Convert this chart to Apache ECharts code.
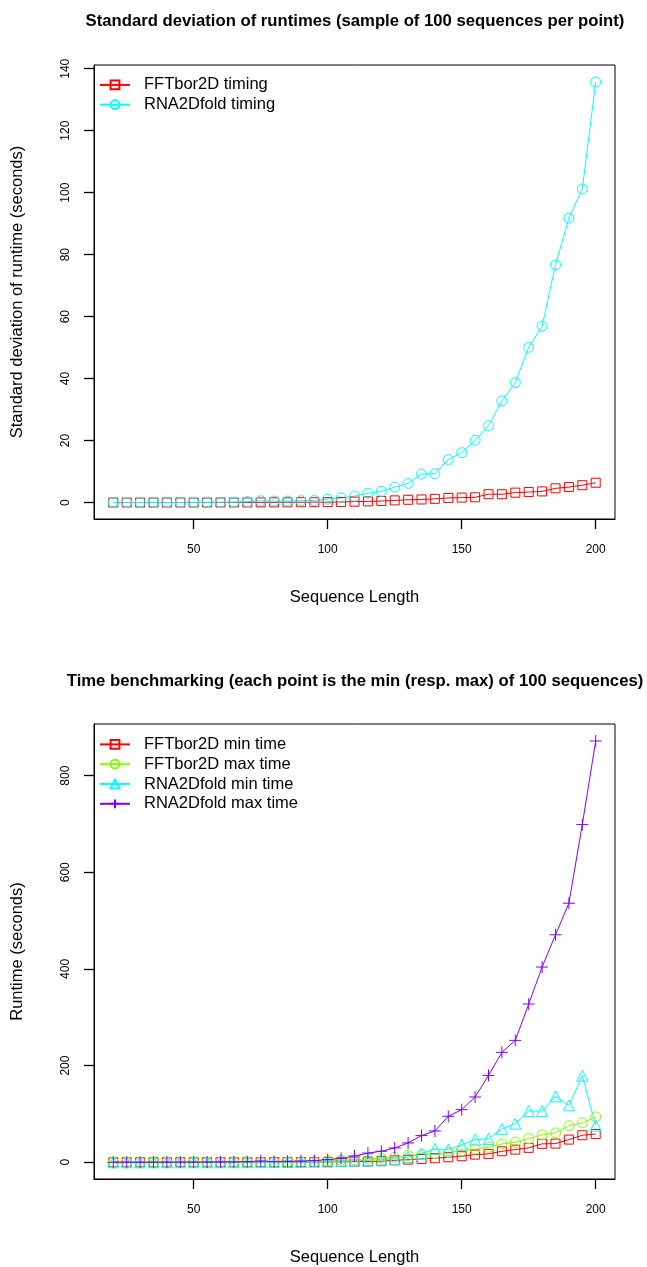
<!DOCTYPE html>
<html>
<head>
<meta charset="utf-8">
<script src="https://cdn.jsdelivr.net/npm/echarts@6/dist/echarts.min.js"></script>
<style>
  html, body { margin: 0; padding: 0; background: #fff; }
  #chart { width: 647px; height: 1267px; }
</style>
</head>
<body>
<div id="chart"></div>
<script>
// Sequence lengths (x values, shared by both panels)
var seqLength = [20, 25, 30, 35, 40, 45, 50, 55, 60, 65, 70, 75, 80, 85, 90, 95, 100,
  105, 110, 115, 120, 125, 130, 135, 140, 145, 150, 155, 160, 165, 170, 175, 180,
  185, 190, 195, 200];

// Top panel: standard deviation of runtimes (seconds)
var sdFFTbor2D = [0.01, 0.01, 0.01, 0.01, 0.01, 0.02, 0.02, 0.02, 0.03, 0.03, 0.04, 0.05,
  0.06, 0.08, 0.1, 0.12, 0.15, 0.2, 0.3, 0.4, 0.5, 0.7, 0.9, 1.0, 1.2, 1.5, 1.6, 1.7,
  2.7, 2.7, 3.2, 3.4, 3.6, 4.6, 5.0, 5.6, 6.4];
var sdRNA2Dfold = [0.01, 0.01, 0.02, 0.02, 0.03, 0.04, 0.05, 0.07, 0.1, 0.15, 0.3, 0.6,
  0.5, 0.5, 0.6, 0.7, 1.1, 1.5, 2.1, 3.0, 3.6, 5.0, 6.2, 9.2, 9.3, 13.9, 16.1, 20.1,
  24.8, 32.8, 38.7, 50.1, 56.9, 76.7, 91.8, 101.2, 135.7];

// Bottom panel: min / max runtime (seconds)
var fftMinTime = [0.01, 0.01, 0.02, 0.02, 0.03, 0.04, 0.05, 0.07, 0.09, 0.12, 0.15, 0.2,
  0.25, 0.3, 0.4, 0.5, 0.7, 0.9, 1.2, 1.6, 2.2, 4, 5.5, 7, 8.3, 10.4, 12.5, 15.8,
  17.3, 22.8, 26.2, 29.8, 38.2, 38.6, 46.9, 55.9, 58.6];
var fftMaxTime = [0.02, 0.03, 0.04, 0.05, 0.06, 0.08, 0.1, 0.13, 0.17, 0.22, 0.3, 0.4,
  0.5, 0.7, 0.9, 1.2, 2.8, 4, 5.5, 7, 8.3, 10.4, 13.8, 15.8, 17.9, 20.7, 24.2, 27.6,
  31, 38, 41.3, 49, 56.6, 60.7, 75.8, 81.4, 93.8];
var rnaMinTime = [0.01, 0.01, 0.02, 0.02, 0.03, 0.04, 0.05, 0.07, 0.1, 0.14, 0.2, 0.3,
  0.4, 0.6, 0.8, 1.1, 1.5, 2.3, 3.3, 4, 5.5, 7, 11.1, 18, 27.6, 26.2, 36.6, 47,
  48.3, 69, 80, 106, 106, 136.4, 117.8, 179.2, 75.8];
var rnaMaxTime = [0.05, 0.07, 0.1, 0.15, 0.2, 0.3, 0.4, 0.5, 0.7, 0.9, 1.2, 2.5,
  1.6, 2, 2.5, 3.5, 5.5, 8, 13, 19, 22.8, 29.7, 40, 55.2, 64.8, 95.1, 108.9, 135.1,
  179.8, 227.4, 252.2, 327.4, 403.9, 470.7, 536, 698.7, 871.7];

// Tick labels
var xTicks = [50, 100, 150, 200];
var yTicksTop = [0, 20, 40, 60, 80, 100, 120, 140];
var yTicksBottom = [0, 200, 400, 600, 800];

var FONT = 'Liberation Sans, Arial, Helvetica, sans-serif';
var FS = 16.5;
var X_MIN = 12.8, X_MAX = 207.2;
var Y_TOP = [-5.3, 141.2], Y_BOTTOM = [-34.6, 906.8];

function pairs(ys) {
  return seqLength.map(function (x, i) { return [x, ys[i]]; });
}

function lineSeries(name, ys, color, symbol, size, idx) {
  return {
    name: name,
    type: 'line',
    xAxisIndex: idx,
    yAxisIndex: idx,
    data: pairs(ys),
    symbol: symbol,
    symbolSize: size,
    showAllSymbol: true,
    lineStyle: { color: color, width: 1 },
    itemStyle: { color: 'rgba(255,255,255,0)', borderColor: color, borderWidth: 1 },
    emphasis: { disabled: true }
  };
}

// hidden axes that carry the series
function dataX(idx) {
  return { gridIndex: idx, type: 'value', min: X_MIN, max: X_MAX, show: false };
}
function dataY(idx, range) {
  return { gridIndex: idx, type: 'value', min: range[0], max: range[1], show: false };
}

// axes that only draw ticks, labels and titles
function showX(idx) {
  return {
    gridIndex: idx,
    type: 'value',
    position: 'bottom',
    min: X_MIN,
    max: X_MAX,
    name: 'Sequence Length',
    nameLocation: 'middle',
    nameGap: 70,
    splitLine: { show: false },
    axisLine: { show: true, onZero: false, lineStyle: { color: '#000' } },
    axisTick: { show: true, length: 10, customValues: xTicks, lineStyle: { color: '#000', width: 1.3 } },
    axisLabel: { customValues: xTicks, margin: 25, color: '#000' }
  };
}

function showY(idx, name, range, ticks) {
  return {
    gridIndex: idx,
    type: 'value',
    position: 'left',
    min: range[0],
    max: range[1],
    name: name,
    nameLocation: 'middle',
    nameGap: 68,
    splitLine: { show: false },
    axisLine: { show: true, onZero: false, lineStyle: { color: '#000' } },
    axisTick: { show: true, length: 10, customValues: ticks, lineStyle: { color: '#000', width: 1.3 } },
    axisLabel: { customValues: ticks, rotate: 90, margin: 22, color: '#000' }
  };
}

function legendFor(top, names) {
  return {
    data: names,
    orient: 'vertical',
    left: 99,
    top: top,
    padding: 0,
    itemGap: 0,
    itemWidth: 30,
    itemHeight: 11,
    selectedMode: false,
    textStyle: { color: '#000', lineHeight: 19.8, padding: [0, 0, 0, 9] }
  };
}

var chart = echarts.init(document.getElementById('chart'));

chart.setOption({
  animation: false,
  textStyle: { fontFamily: FONT, fontSize: FS, color: '#000' },
  title: [
    {
      text: 'Standard deviation of runtimes (sample of 100 sequences per point)',
      left: 355, top: 13, textAlign: 'center', padding: 0,
      textStyle: { fontFamily: FONT, fontSize: 16.7, fontWeight: 'bold', color: '#000' }
    },
    {
      text: 'Time benchmarking (each point is the min (resp. max) of 100 sequences)',
      left: 355, top: 673, textAlign: 'center', padding: 0,
      textStyle: { fontFamily: FONT, fontSize: 16.7, fontWeight: 'bold', color: '#000' }
    }
  ],
  legend: [
    legendFor(75, ['FFTbor2D timing', 'RNA2Dfold timing']),
    legendFor(734.5, ['FFTbor2D min time', 'FFTbor2D max time', 'RNA2Dfold min time', 'RNA2Dfold max time'])
  ],
  grid: [
    { left: 94, width: 521, top: 65, height: 454, show: true, borderColor: '#000' },
    { left: 94, width: 521, top: 724, height: 455, show: true, borderColor: '#000' }
  ],
  xAxis: [dataX(0), dataX(1), showX(0), showX(1)],
  yAxis: [
    dataY(0, Y_TOP),
    dataY(1, Y_BOTTOM),
    showY(0, 'Standard deviation of runtime (seconds)', Y_TOP, yTicksTop),
    showY(1, 'Runtime (seconds)', Y_BOTTOM, yTicksBottom)
  ],
  series: [
    lineSeries('FFTbor2D timing', sdFFTbor2D, '#FF0000', 'rect', 9, 0),
    lineSeries('RNA2Dfold timing', sdRNA2Dfold, '#00FFFF', 'circle', 10, 0),
    lineSeries('FFTbor2D min time', fftMinTime, '#FF0000', 'rect', 9, 1),
    lineSeries('FFTbor2D max time', fftMaxTime, '#80FF00', 'circle', 10, 1),
    lineSeries('RNA2Dfold min time', rnaMinTime, '#00FFFF', 'triangle', 11, 1),
    lineSeries('RNA2Dfold max time', rnaMaxTime, '#8000FF', 'path://M5,0 L5,10 M0,5 L10,5', 12, 1)
  ]
});
</script>
</body>
</html>
